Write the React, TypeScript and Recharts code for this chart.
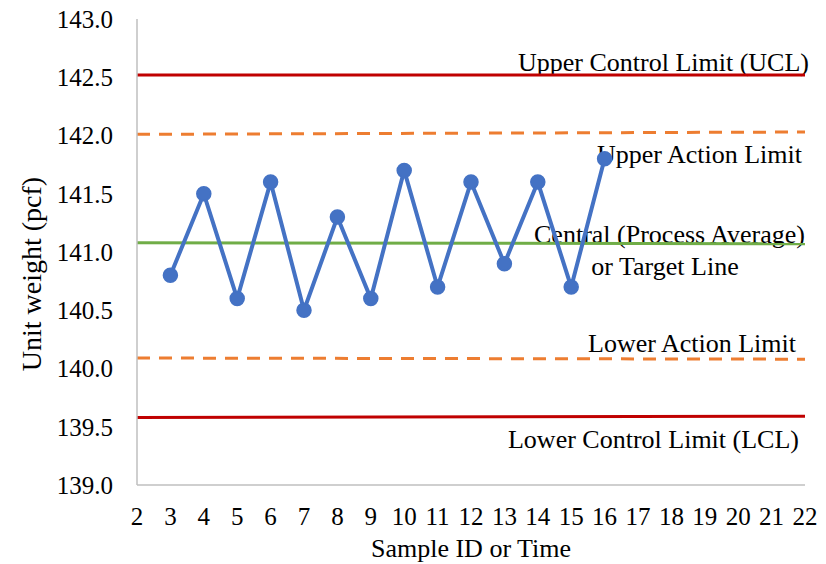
import { LineChart, Line, XAxis, YAxis } from "recharts";

// sample measurements
const sampleIds = [3, 4, 5, 6, 7, 8, 9, 10, 11, 12, 13, 14, 15, 16];
const unitWeights = [140.8, 141.5, 140.6, 141.6, 140.5, 141.3, 140.6, 141.7, 140.7, 141.6, 140.9, 141.6, 140.7, 141.8];

// limit lines, drawn from first to last x tick
const limitEnds = [2, 22];
const uclValues = [142.52, 142.52];
const upperActionValues = [142.01, 142.03];
const centralValues = [141.08, 141.07];
const lowerActionValues = [140.09, 140.08];
const lclValues = [139.58, 139.59];

const xTicks = [2, 3, 4, 5, 6, 7, 8, 9, 10, 11, 12, 13, 14, 15, 16, 17, 18, 19, 20, 21, 22];
const yTicks = [139.0, 139.5, 140.0, 140.5, 141.0, 141.5, 142.0, 142.5, 143.0];

const FONT = '"Liberation Serif", "Times New Roman", serif';
const BLUE = "#4472C4";
const RED = "#C00000";
const ORANGE = "#ED7D31";
const GREEN = "#70AD47";
const AXIS = "#BFBFBF";

function limitAt(values: number[], x: number) {
  const i = limitEnds.indexOf(x);
  return i >= 0 ? values[i] : null;
}

const chartData = xTicks.map((x) => {
  const i = sampleIds.indexOf(x);
  return {
    x,
    weight: i >= 0 ? unitWeights[i] : null,
    ucl: limitAt(uclValues, x),
    ual: limitAt(upperActionValues, x),
    central: limitAt(centralValues, x),
    lal: limitAt(lowerActionValues, x),
    lcl: limitAt(lclValues, x),
  };
});

function YTitle() {
  return (
    <text
      transform="translate(41,274) rotate(-90)"
      textAnchor="middle"
      fontFamily={FONT}
      fontSize={28}
      fill="#000"
    >
      Unit weight (pcf)
    </text>
  );
}

function Annotations() {
  const common = { fontFamily: FONT, fontSize: 26, fill: "#000" };
  return (
    <g>
      <text x={809} y={71} textAnchor="end" {...common}>Upper Control Limit (UCL)</text>
      <text x={802} y={163} textAnchor="end" {...common}>Upper Action Limit</text>
      <text x={805} y={243} textAnchor="end" {...common}>Central (Process Average)</text>
      <text x={665} y={275} textAnchor="middle" {...common}>or Target Line</text>
      <text x={796} y={352} textAnchor="end" {...common}>Lower Action Limit</text>
      <text x={799} y={448} textAnchor="end" {...common}>Lower Control Limit (LCL)</text>
    </g>
  );
}

export default function App() {
  return (
    <div style={{ position: "absolute", left: 0, top: 0, background: "#fff" }}>
      <LineChart
        width={826}
        height={564}
        data={chartData}
        margin={{ top: 19, right: 21, bottom: 0, left: 0 }}
      >
        <XAxis
          dataKey="x"
          type="number"
          domain={[2, 22]}
          ticks={xTicks}
          interval={0}
          height={79}
          tickSize={0}
          tickMargin={22}
          stroke={AXIS}
          strokeWidth={1.5}
          tick={{ fill: "#000", fontFamily: FONT, fontSize: 25 }}
          label={{
            value: "Sample ID or Time",
            position: "insideBottom",
            offset: 7,
            fill: "#000",
            fontFamily: FONT,
            fontSize: 26,
          }}
        />
        <YAxis
          type="number"
          domain={[139, 143]}
          ticks={yTicks}
          interval={0}
          width={137}
          tickSize={0}
          tickMargin={24}
          stroke={AXIS}
          strokeWidth={1.5}
          tickFormatter={(v: number) => v.toFixed(1)}
          tick={{ fill: "#000", fontFamily: FONT, fontSize: 25 }}
          label={<YTitle />}
        />
        <Line dataKey="ucl" stroke={RED} strokeWidth={3} dot={false} connectNulls isAnimationActive={false} />
        <Line dataKey="ual" stroke={ORANGE} strokeWidth={3} strokeDasharray="13 9" dot={false} connectNulls isAnimationActive={false} />
        <Line dataKey="central" stroke={GREEN} strokeWidth={3} dot={false} connectNulls isAnimationActive={false} />
        <Line dataKey="lal" stroke={ORANGE} strokeWidth={3} strokeDasharray="13 9" dot={false} connectNulls isAnimationActive={false} />
        <Line dataKey="lcl" stroke={RED} strokeWidth={3} dot={false} connectNulls isAnimationActive={false} />
        <Line
          dataKey="weight"
          stroke={BLUE}
          strokeWidth={4}
          dot={{ r: 7, fill: BLUE, stroke: BLUE, strokeWidth: 1.5 }}
          isAnimationActive={false}
        />
        <Annotations />
      </LineChart>
    </div>
  );
}
